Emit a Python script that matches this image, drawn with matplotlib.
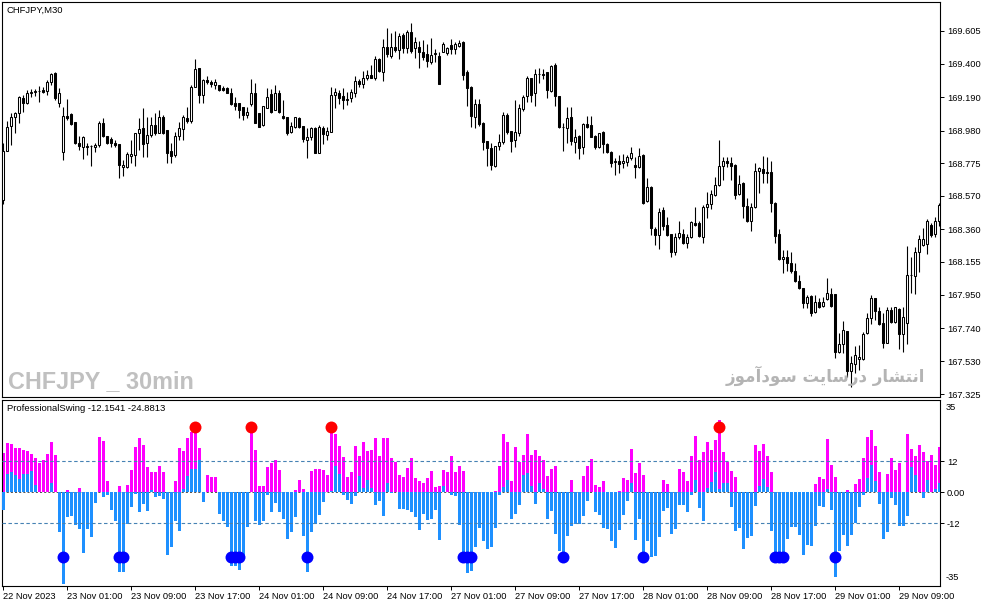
import matplotlib
matplotlib.use("Agg")
import matplotlib.pyplot as plt
import numpy as np

plt.rcParams['font.family'] = ['Liberation Sans', 'DejaVu Sans']
plt.rcParams['lines.scale_dashes'] = False

# ---------------- data (CHFJPY M30, 22 Nov 17:00 -> 29 Nov) ----------------
opens = [168.544,168.852,169.008,169.065,169.090,169.185,169.153,169.216,169.223,169.229,
 169.235,169.229,169.285,169.342,169.153,168.846,169.071,169.084,169.034,168.902,
 168.877,168.877,168.883,168.877,168.889,169.027,168.946,168.927,168.902,168.896,
 168.751,168.751,168.820,168.827,168.965,168.996,168.902,168.952,169.015,168.965,
 169.065,168.984,168.852,168.827,168.946,168.990,169.059,169.040,169.254,169.373,
 169.204,169.298,169.285,169.266,169.266,169.248,169.248,169.216,169.153,169.153,
 169.128,169.078,169.147,169.216,169.090,169.015,169.122,169.210,169.109,169.216,
 169.071,169.065,168.971,169.002,169.059,169.008,168.921,168.940,168.996,168.839,
 168.996,168.952,168.971,169.204,169.216,169.197,169.172,169.185,169.216,169.291,
 169.273,169.310,169.329,169.310,169.429,169.348,169.505,169.448,169.505,169.486,
 169.580,169.499,169.599,169.499,169.505,169.473,169.461,169.411,169.461,169.448,
 169.473,169.467,169.517,169.492,169.511,169.536,169.348,169.254,169.065,169.147,
 169.027,168.915,168.871,168.757,168.883,168.908,169.078,168.977,168.921,168.965,
 169.116,169.197,169.310,169.216,169.335,169.335,169.348,169.229,169.392,169.197,
 169.002,168.996,169.065,168.908,168.946,168.877,169.021,169.015,168.946,168.877,
 168.971,168.896,168.846,168.783,168.789,168.776,168.783,168.808,168.764,168.751,
 168.827,168.538,168.626,168.362,168.324,168.481,168.387,168.331,168.217,168.312,
 168.331,168.274,168.312,168.400,168.400,168.312,168.500,168.519,168.576,168.639,
 168.757,168.789,168.776,168.764,168.582,168.651,168.506,168.412,168.500,168.726,
 168.739,168.720,168.720,168.525,168.331,168.173,168.186,168.148,168.098,168.035,
 167.991,167.897,167.941,167.840,167.903,167.878,167.922,167.953,167.953,167.589,
 167.640,167.722,167.470,167.514,167.545,167.545,167.709,167.803,167.928,167.847,
 167.772,167.646,167.853,167.778,167.859,167.702,167.772,168.073,168.067,168.217,
 168.261,168.268,168.387,168.331,168.412]
highs = [168.902,169.040,169.090,169.096,169.197,169.204,169.235,169.241,169.241,169.260,
 169.254,169.298,169.342,169.345,169.248,169.128,169.178,169.090,169.034,168.946,
 168.946,168.902,168.889,168.902,169.040,169.059,168.946,168.940,168.921,168.896,
 168.795,168.846,168.921,168.966,169.059,169.122,169.065,169.065,169.090,169.109,
 169.078,168.984,168.902,168.971,169.034,169.078,169.128,169.266,169.429,169.374,
 169.304,169.323,169.298,169.304,169.267,169.260,169.254,169.248,169.191,169.154,
 169.129,169.128,169.304,169.279,169.091,169.135,169.248,169.241,169.266,169.235,
 169.172,169.066,169.034,169.066,169.065,169.009,168.996,169.002,169.002,169.015,
 169.008,169.002,169.254,169.248,169.235,169.248,169.223,169.241,169.323,169.304,
 169.354,169.360,169.392,169.448,169.436,169.555,169.624,169.593,169.605,169.593,
 169.593,169.612,169.656,169.568,169.543,169.549,169.524,169.561,169.492,169.473,
 169.536,169.505,169.555,169.536,169.549,169.543,169.360,169.260,169.178,169.178,
 169.034,168.916,168.902,168.884,168.959,169.096,169.090,168.978,169.172,169.147,
 169.204,169.323,169.311,169.367,169.373,169.367,169.349,169.392,169.404,169.198,
 169.027,169.128,169.128,168.990,168.952,169.027,169.071,169.071,168.952,168.966,
 168.977,168.902,168.852,168.808,168.827,168.833,168.827,168.877,168.814,168.871,
 168.833,168.682,168.632,168.374,168.494,168.500,168.437,168.332,168.337,168.412,
 168.362,168.331,168.412,168.500,168.412,168.513,168.594,168.607,168.688,168.921,
 168.814,168.814,168.814,168.770,168.701,168.657,168.557,168.525,168.776,168.751,
 168.820,168.814,168.789,168.531,168.362,168.230,168.230,168.217,168.148,168.073,
 167.992,167.947,167.947,167.947,167.928,167.935,168.054,167.991,167.954,167.709,
 167.784,167.723,167.564,167.627,167.633,167.715,167.834,167.947,167.929,167.872,
 167.834,167.872,167.872,167.873,167.866,167.872,168.255,168.186,168.249,168.324,
 168.368,168.425,168.400,168.437,168.525]
lows = [168.519,168.850,168.890,168.965,169.027,169.096,169.147,169.191,169.197,169.159,
 169.216,169.204,169.266,169.172,169.128,168.795,169.046,169.015,168.896,168.858,
 168.801,168.827,168.757,168.846,168.877,168.940,168.896,168.877,168.877,168.682,
 168.694,168.745,168.776,168.757,168.858,168.814,168.814,168.940,168.952,168.964,
 168.959,168.776,168.776,168.814,168.921,168.921,169.027,169.027,169.253,169.153,
 169.153,169.273,169.254,169.241,169.229,169.229,169.215,169.141,169.109,169.059,
 169.046,169.059,169.134,169.026,169.001,169.008,169.121,169.090,169.108,169.090,
 169.052,168.952,168.965,168.996,168.996,168.908,168.808,168.921,168.838,168.838,
 168.896,168.921,168.970,169.122,169.147,169.116,169.141,169.159,169.191,169.254,
 169.248,169.298,169.309,169.298,169.348,169.291,169.442,169.436,169.473,169.429,
 169.467,169.467,169.467,169.436,169.373,169.423,169.379,169.398,169.411,169.272,
 169.472,169.455,169.461,169.461,169.505,169.298,169.134,169.002,168.996,169.008,
 168.858,168.757,168.732,168.751,168.858,168.896,168.959,168.846,168.877,168.946,
 169.103,169.159,169.159,169.134,169.279,169.304,169.185,169.223,169.134,168.996,
 168.852,168.902,168.889,168.839,168.801,168.833,168.996,168.939,168.864,168.871,
 168.839,168.839,168.751,168.701,168.713,168.745,168.757,168.795,168.682,168.745,
 168.519,168.531,168.324,168.261,168.236,168.356,168.318,168.186,168.199,168.299,
 168.268,168.243,168.306,168.381,168.312,168.274,168.431,168.487,168.569,168.632,
 168.670,168.751,168.670,168.550,168.576,168.431,168.406,168.349,168.494,168.588,
 168.651,168.651,168.469,168.274,168.167,168.085,168.098,168.085,168.029,167.985,
 167.866,167.866,167.815,167.834,167.866,167.872,167.916,167.872,167.551,167.583,
 167.583,167.432,167.369,167.457,167.476,167.539,167.702,167.765,167.790,167.759,
 167.615,167.645,167.772,167.772,167.608,167.589,167.640,167.960,167.953,168.092,
 168.255,168.205,168.312,168.312,168.381]
closes = [168.852,169.002,169.065,169.090,169.191,169.153,169.216,169.223,169.229,169.230,
 169.223,169.285,169.335,169.185,169.216,169.071,169.059,169.021,168.902,168.883,
 168.940,168.883,168.884,168.889,169.027,168.946,168.902,168.902,168.889,168.763,
 168.764,168.833,168.833,168.965,168.990,168.896,168.952,169.015,168.965,169.065,
 168.965,168.839,168.820,168.946,168.996,169.065,169.040,169.254,169.367,169.204,
 169.298,169.285,169.273,169.286,169.235,169.235,169.216,169.147,169.134,169.109,
 169.078,169.096,169.216,169.027,169.002,169.134,169.191,169.096,169.216,169.096,
 169.059,168.965,169.008,169.065,169.002,168.927,168.940,168.996,168.839,169.002,
 168.959,168.977,169.204,169.223,169.185,169.172,169.178,169.223,169.291,169.273,
 169.310,169.329,169.310,169.429,169.354,169.505,169.461,169.505,169.486,169.574,
 169.499,169.599,169.480,169.536,169.473,169.442,169.417,169.455,169.467,169.273,
 169.524,169.499,169.492,169.524,169.530,169.329,169.248,169.071,169.147,169.021,
 168.908,168.871,168.763,168.883,168.908,169.078,168.971,168.915,168.971,169.122,
 169.191,169.310,169.204,169.335,169.336,169.329,169.235,169.386,169.197,169.002,
 169.001,169.059,168.915,168.940,168.871,169.021,169.002,168.940,168.877,168.965,
 168.896,168.846,168.776,168.789,168.770,168.789,168.814,168.839,168.751,168.820,
 168.525,168.626,168.368,168.324,168.469,168.381,168.324,168.217,168.312,168.337,
 168.274,168.312,168.406,168.387,168.318,168.500,168.519,168.582,168.639,168.757,
 168.789,168.776,168.757,168.576,168.644,168.506,168.412,168.500,168.726,168.745,
 168.714,168.713,168.525,168.318,168.173,168.186,168.148,168.098,168.035,167.991,
 167.897,167.935,167.834,167.903,167.872,167.903,167.960,167.878,167.589,167.640,
 167.728,167.470,167.520,167.571,167.558,167.702,167.803,167.928,167.847,167.765,
 167.646,167.853,167.778,167.872,167.702,167.809,168.073,168.074,168.217,168.299,
 168.299,168.412,168.324,168.412,168.513]

# ProfessionalSwing oscillator
swing_magenta = [15.0,18.9,18.5,17.2,16.9,16.3,15.9,14.6,13.0,11.3,12.4,14.6,19.3,14.3,0,0,0.9,0,0,1.7,
 0,0,0,0,21.2,19.8,4.2,0,0,2.3,0,2.6,8.5,17.6,20.8,18.2,9.8,7.8,7.6,10.0,
 7.6,0,0,4.2,17.2,15.9,20.8,23.4,25.4,16.9,0,6.5,5.9,5.9,0,0,0,0,0,0,
 0,0,25.4,16.3,2.3,2.3,9.8,11.1,12.4,8.5,0,0,0,0.7,4.6,1.3,0,8.1,8.9,8.9,
 8.6,6.6,25.5,22.3,17.7,13.4,5.7,7.9,18.0,13.8,19.3,15.8,16.4,21.0,14.1,21.0,21.0,13.2,11.8,6.6,
 5.7,9.2,13.2,5.3,4.3,3.6,5.3,8.2,1.8,2.3,8.6,7.8,14.1,7.6,10.2,8.2,0,0,0,0,
 0,0,0,0.5,9.9,22.3,19.3,4.3,17.3,11.5,14.5,22.3,14.5,16.4,13.8,12.5,6.3,9.0,10.2,0,
 0,0,4.7,0,0,6.3,9.9,12.8,2.7,1.8,4.3,0,0,0,0.5,5.3,4.7,16.7,7.3,11.2,
 6.6,0,0,0,0,4.7,3.1,0,0,9.0,7.6,4.3,14.1,21.6,12.5,15.4,19.3,16.1,20.1,28.1,
 15.4,11.8,8.2,5.7,0,0,0,0,18.4,15.8,18.8,13.8,7.9,0,0,0,0,0,0,0,
 0,0,0,3.1,5.7,4.9,20.7,10.5,5.7,0,0,0.9,0,3.3,4.9,13.3,21.5,24.1,18.0,7.8,
 0,6.8,13.3,8.5,11.1,0,22.5,16.7,14.1,18.2,15.4,12.0,14.3,10.4,17.3]
swing_blue = [-6.9,6.9,7.8,6.5,5.2,6.9,6.9,8.1,2.9,0,0,0,3.6,0,-15.4,-35.8,-9.8,-9.4,-12.8,-14.3,
 -23.7,-14.3,-17.6,-4.2,0,-2.0,-1.3,-6.8,-11.1,-31.0,-31.0,-12.4,-5.9,-0.9,-7.8,-4.6,-7.2,0.7,-2.0,-1.6,
 -2.6,-24.5,-21.2,-11.1,-15.0,1.3,6.1,9.1,9.1,12.4,-3.9,0,0,0,-8.5,-11.1,-13.7,-28.6,-28.6,-30.2,
 -26.0,-13.7,0,-11.1,-12.8,-11.1,-1.3,-7.8,-4.2,-7.8,-10.4,-18.0,-15.6,-9.8,0,-16.9,-31.0,-15.6,-12.4,-8.9,
 -3.8,0,0.5,9.9,7.0,-1.2,-3.1,-4.7,-1.6,6.3,1.4,4.7,1.4,-5.1,-3.4,-9.4,3.4,-0.5,0,-6.6,
 -6.6,-7.0,-7.7,-9.6,-14.8,-8.6,-10.9,-10.5,-7.0,-18.4,2.3,0,-1.2,-1.6,-12.9,-26.3,-31.5,-30.7,-21.4,-13.9,
 -19.0,-22.1,-21.4,-13.9,-1.2,1.8,4.7,-10.5,-8.6,-5.1,6.6,7.3,2.3,-4.7,3.4,1.0,-10.5,-7.4,-16.4,-22.7,
 -24.0,-17.2,-13.3,-12.5,-12.5,-9.4,-3.4,0,-7.8,-9.0,-13.9,-14.5,-19.0,-21.7,-14.8,-9.0,-3.4,3.4,-18.4,-10.5,
 -24.6,-19.0,-25.0,-24.6,-17.4,-7.4,-6.1,-16.4,-14.5,-5.1,-5.1,-7.8,-1.2,4.7,-6.1,-11.2,1.4,4.0,7.9,1.0,
 3.4,3.4,-5.7,-15.1,-13.9,-22.1,-17.7,-17.2,-5.5,2.3,4.9,1.8,-15.1,-23.3,-23.3,-23.3,-18.1,-13.5,-13.5,-16.8,
 -24.3,-20.4,-21.0,-13.3,-5.3,-5.7,1.0,-7.0,-33.1,-23.0,-16.7,-20.8,-16.7,-12.1,-5.9,-1.0,5.5,10.4,4.2,-4.6,
 -18.0,-15.4,-2.3,-4.9,-13.0,-13.0,-9.4,9.8,6.5,0,-2.3,4.6,0,1.3,3.6]
red_dot_bars = [48, 62, 82, 179]
red_dot_values = [25.3, 25.3, 25.3, 25.3]
blue_dot_bars = [15, 29, 30, 57, 58, 59, 76, 115, 116, 117, 140, 160, 193, 194, 195, 208]
blue_dot_values = [-25.3, -25.3, -25.3, -25.3, -25.3, -25.3, -25.3, -25.3,
                   -25.3, -25.3, -25.3, -25.3, -25.3, -25.3, -25.3, -25.3]
swing_levels = [12, -12]

xtick_bars = [0, 16, 32, 48, 64, 80, 96, 112, 128, 144, 160, 176, 192, 208, 224]
xtick_labels = ["22 Nov 2023", "23 Nov 01:00", "23 Nov 09:00", "23 Nov 17:00", "24 Nov 01:00",
                "24 Nov 09:00", "24 Nov 17:00", "27 Nov 01:00", "27 Nov 09:00", "27 Nov 17:00",
                "28 Nov 01:00", "28 Nov 09:00", "28 Nov 17:00", "29 Nov 01:00", "29 Nov 09:00"]
price_ticks = [169.605, 169.400, 169.190, 168.980, 168.775, 168.570, 168.360, 168.155,
               167.950, 167.740, 167.530, 167.325]
price_tick_labels = ["169.605", "169.400", "169.190", "168.980", "168.775", "168.570", "168.360",
                     "168.155", "167.950", "167.740", "167.530", "167.325"]

# ---------------- figure ----------------
W, H = 987, 605
fig = plt.figure(figsize=(W / 100, H / 100), dpi=100)
ax1 = fig.add_axes([2 / W, 1 - 397 / H, 938 / W, 395 / H])
ax2 = fig.add_axes([2 / W, 1 - 586 / H, 938 / W, 186.5 / H])

x = np.arange(len(closes))
o = np.array(opens); c = np.array(closes)
bull = c >= o
ax1.vlines(x, lows, highs, color='black', linewidth=0.8, zorder=2)
ax1.bar(x, c - o, bottom=o, width=0.5,
        color=np.where(bull, 'white', 'black'), edgecolor='black', linewidth=0.75, zorder=3)
ax1.set_xlim(-0.325, 234.175)
ax1.set_ylim(167.307, 169.787)
ax1.set_xticks([])
ax1.yaxis.tick_right()
ax1.set_yticks(price_ticks)
ax1.set_yticklabels(price_tick_labels)
ax1.tick_params(axis='y', direction='out', length=3, width=0.7, pad=2, labelsize=6.7)

# oscillator
ax2.axhline(0, color='#505050', linewidth=0.7, dashes=(1.5, 1.5), zorder=1)
ax2.bar(x, swing_magenta, width=0.75, color='#FF00FF', linewidth=0, zorder=2, antialiased=False)
ax2.bar(x, swing_blue, width=0.75, color='#1E90FF', linewidth=0, zorder=3, antialiased=False)
for lv in swing_levels:
    ax2.axhline(lv, color='#4682B4', linewidth=0.8, dashes=(2.5, 1.8), zorder=4)
ax2.plot(red_dot_bars, red_dot_values, 'o', color='#FF0000', markersize=8.6, markeredgewidth=0, zorder=5)
ax2.plot(blue_dot_bars, blue_dot_values, 'o', color='#0000FF', markersize=8.6, markeredgewidth=0, zorder=5)
ax2.set_xlim(-0.325, 234.175)
ax2.set_ylim(-36.4, 35.85)
ax2.yaxis.tick_right()
ax2.set_yticks([12, 0, -12])
ax2.set_yticklabels(["12", "0.00", "-12"])
ax2.tick_params(axis='y', direction='out', length=3, width=0.7, pad=2, labelsize=6.7)
ax2.set_xticks(xtick_bars)
ax2.set_xticklabels(xtick_labels)
ax2.tick_params(axis='x', direction='out', length=3, width=0.7, pad=1.5, labelsize=6.7)
for lbl in ax2.get_xticklabels():
    lbl.set_horizontalalignment('left')

for ax in (ax1, ax2):
    for sp in ax.spines.values():
        sp.set_linewidth(0.8)
        sp.set_color('black')

fig.text(946 / W, 1 - 407 / H, "35", fontsize=6.7, va='center', ha='left')
fig.text(946 / W, 1 - 578 / H, "-35", fontsize=6.7, va='center', ha='left')

fig.text(7 / W, 1 - 10.5 / H, "CHFJPY,M30", fontsize=6.8, va='center', ha='left')
fig.text(7 / W, 1 - 408.5 / H, "ProfessionalSwing -12.1541 -24.8813", fontsize=6.8, va='center', ha='left')

fig.text(8 / W, 1 - 388 / H, "CHFJPY _ 30min", fontsize=16.8, fontweight='bold',
         family=['Liberation Sans'], color='#C0C0C0',
         va='baseline', ha='left', zorder=0)
persian = "\uFEAF\uFEEE\uFEE3\uFE81\uFEA9\uFEEE\uFEB3 \uFE96\uFEF3\uFE8E\uFEB3\uFEAD\uFEA9 \uFEAD\uFE8E\uFEB8\uFE98\uFEE7\uFE8D"
fig.text(925 / W, 1 - 376 / H, persian, fontsize=12, fontweight='bold', family=['DejaVu Sans'],
         color='#B4B4B4', va='center', ha='right', zorder=0)

fig.savefig("out.png", dpi=100)
